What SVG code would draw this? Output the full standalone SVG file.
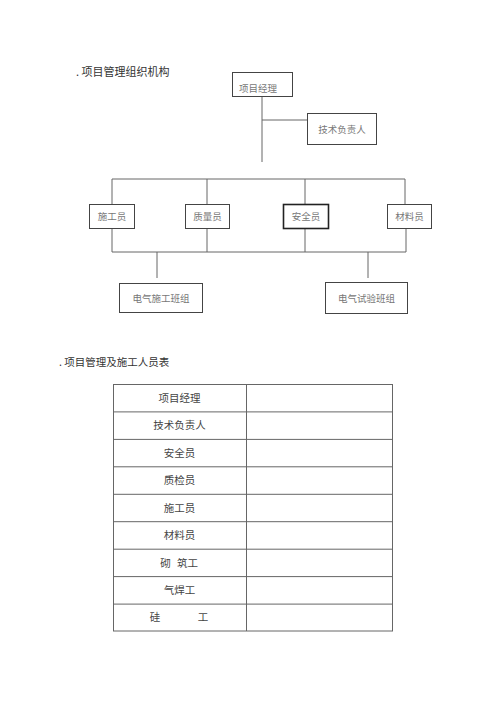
<svg xmlns="http://www.w3.org/2000/svg" width="500" height="724" viewBox="0 0 500 724">
<style>
text{font-family:"Noto Sans CJK SC","Noto Sans",sans-serif}
.title{font-size:11px;fill:#333}
.box{fill:#fff;stroke:#444;stroke-width:1}
.bold{stroke:#222;stroke-width:1.6}
.lbl{font-size:9.5px;fill:#777}
.ln{stroke:#666;stroke-width:1;fill:none}
.tb{stroke:#666;stroke-width:1;fill:none}
.cell{font-size:10.5px;fill:#444;text-anchor:middle}
</style>
<rect width="500" height="724" fill="#fff"/>
<text class="title" x="76" y="76">. 项目管理组织机构</text>
<g id="connectors">
<path class="ln" d="M262 96V162M262 120H307"/>
<path class="ln" d="M112 179H405M112 179V204M207 179V204M305 179V204M405 179V204"/>
<path class="ln" d="M112 229V252M207 229V252M305 229V252M406 229V252M112 252H406"/>
<path class="ln" d="M157 252V278M368 252V278"/>
</g>
<g id="pm"><rect class="box" x="232.5" y="72.5" width="60" height="24"/><text class="lbl" x="239" y="91.5">项目经理</text></g>
<g id="tech"><rect class="box" x="307.5" y="113.5" width="69" height="31"/><text class="lbl" x="342" y="132.5" text-anchor="middle">技术负责人</text></g>
<g id="sg"><rect class="box" x="89.5" y="204.5" width="45" height="24"/><text class="lbl" x="112" y="220" text-anchor="middle">施工员</text></g>
<g id="zl"><rect class="box" x="185.5" y="204.5" width="44" height="24"/><text class="lbl" x="207.5" y="220" text-anchor="middle">质量员</text></g>
<g id="aq"><rect class="box bold" x="283.5" y="204.5" width="45" height="24"/><text class="lbl" x="306" y="220" text-anchor="middle">安全员</text></g>
<g id="cl"><rect class="box" x="387.5" y="204.5" width="44" height="24"/><text class="lbl" x="409.5" y="220" text-anchor="middle">材料员</text></g>
<g id="dq1"><rect class="box" x="119.5" y="283.5" width="83" height="29"/><text class="lbl" x="161" y="301.5" text-anchor="middle">电气施工班组</text></g>
<g id="dq2"><rect class="box" x="325.5" y="282.5" width="82" height="31"/><text class="lbl" x="366.5" y="301.5" text-anchor="middle">电气试验班组</text></g>
<text class="title" x="59" y="366" style="font-size:10.5px">. 项目管理及施工人员表</text>
<g id="table">
<rect class="tb" x="113.5" y="384.5" width="279" height="246.5"/>
<path class="tb" d="M246.5 384.5V631M113.5 411.9H392.5M113.5 439.4H392.5M113.5 466.8H392.5M113.5 494.3H392.5M113.5 521.7H392.5M113.5 549.2H392.5M113.5 576.6H392.5M113.5 604.1H392.5"/>
<text class="cell" x="179.5" y="401.8">项目经理</text>
<text class="cell" x="179.5" y="429.2">技术负责人</text>
<text class="cell" x="179.5" y="456.7">安全员</text>
<text class="cell" x="179.5" y="484.1">质检员</text>
<text class="cell" x="179.5" y="511.6">施工员</text>
<text class="cell" x="179.5" y="539">材料员</text>
<text class="cell" x="165.5" y="566.5">砌</text>
<text class="cell" x="187.5" y="566.5">筑工</text>
<text class="cell" x="179.5" y="593.9">气焊工</text>
<text class="cell" x="155" y="621.4">硅</text>
<text class="cell" x="203" y="621.4">工</text>
</g>
</svg>
